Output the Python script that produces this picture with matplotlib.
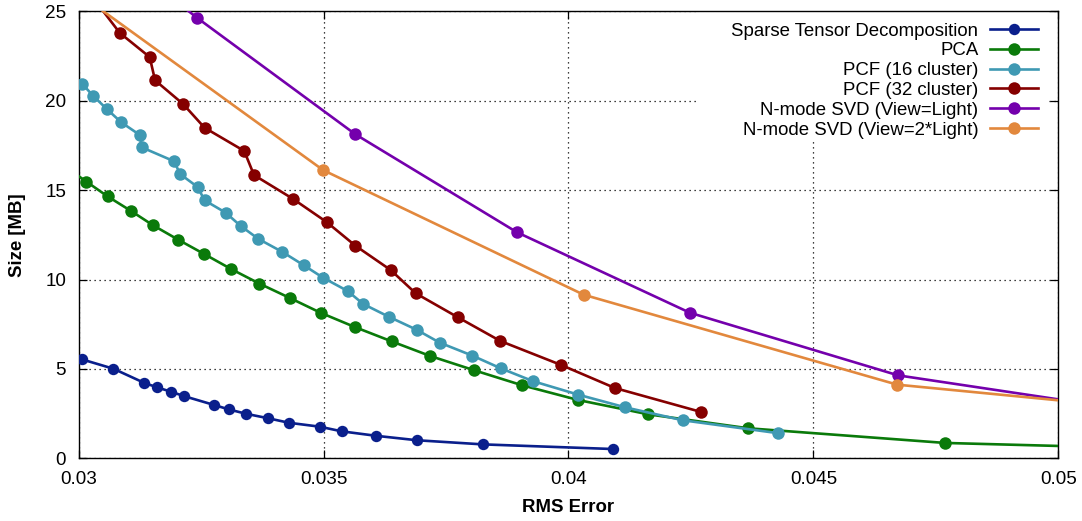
import matplotlib
matplotlib.use('Agg')
import matplotlib.pyplot as plt
from matplotlib.patches import Rectangle
from matplotlib.ticker import FuncFormatter

plt.rcParams['font.family'] = ['Liberation Sans', 'DejaVu Sans']

# values; points outside the axes are only there so
# the clipped line segments reach the border like in the original
std_x = [0.03006, 0.03071, 0.03133, 0.03160, 0.03189, 0.03215, 0.03277, 0.03306, 0.03342,
         0.03387, 0.03429, 0.03492, 0.03537, 0.03607, 0.03691, 0.03825, 0.04091]
std_y = [5.54, 5.01, 4.23, 3.97, 3.72, 3.48, 2.98, 2.74, 2.49,
         2.24, 1.99, 1.77, 1.51, 1.26, 1.01, 0.78, 0.52]

pca_x = [0.02970, 0.03016, 0.03059, 0.03106, 0.03152, 0.03203, 0.03256, 0.03311, 0.03369,
         0.03431, 0.03494, 0.03564, 0.03639, 0.03718, 0.03808, 0.03906, 0.04020, 0.04163,
         0.04367, 0.04769, 0.05250]
pca_y = [16.36, 15.47, 14.65, 13.85, 13.03, 12.23, 11.43, 10.59, 9.77,
         8.97, 8.14, 7.34, 6.54, 5.72, 4.92, 4.08, 3.26, 2.46,
         1.68, 0.86, 0.51]

pcf16_x = [0.03007, 0.03030, 0.03058, 0.03087, 0.03125, 0.03129, 0.03195, 0.03207, 0.03243,
           0.03257, 0.03300, 0.03331, 0.03367, 0.03416, 0.03460, 0.03499, 0.03549, 0.03581,
           0.03633, 0.03690, 0.03737, 0.03804, 0.03862, 0.03928, 0.04020, 0.04116, 0.04233,
           0.04427]
pcf16_y = [20.95, 20.26, 19.52, 18.79, 18.08, 17.39, 16.61, 15.90, 15.17,
           14.43, 13.74, 12.99, 12.27, 11.54, 10.79, 10.10, 9.36, 8.63,
           7.92, 7.19, 6.47, 5.74, 5.03, 4.31, 3.56, 2.85, 2.13,
           1.41]

pcf32_x = [0.03000, 0.03084, 0.03145, 0.03156, 0.03213, 0.03257, 0.03338, 0.03358, 0.03437,
           0.03506, 0.03565, 0.03637, 0.03688, 0.03774, 0.03861, 0.03985, 0.04095, 0.04271]
pcf32_y = [26.8, 23.79, 22.44, 21.14, 19.82, 18.49, 17.19, 15.84, 14.52,
           13.22, 11.89, 10.53, 9.23, 7.89, 6.56, 5.22, 3.93, 2.59]

svd1_x = [0.03100, 0.03242, 0.03565, 0.03895, 0.04248, 0.04673, 0.05250]
svd1_y = [27.7, 24.63, 18.12, 12.64, 8.14, 4.64, 2.27]

svd2_x = [0.03000, 0.03499, 0.04031, 0.04671, 0.05250]
svd2_y = [26.0, 16.12, 9.15, 4.12, 2.58]

labels = ['Sparse Tensor Decomposition', 'PCA', 'PCF (16 cluster)', 'PCF (32 cluster)',
          'N-mode SVD (View=Light)', 'N-mode SVD (View=2*Light)']
colors = ['#0a1f8c', '#0a7a0a', '#3f99b3', '#850000', '#7400ac', '#e2883d']

xticks = [0.03, 0.035, 0.04, 0.045, 0.05]
yticks = [0, 5, 10, 15, 20, 25]

series = [(std_x, std_y), (pca_x, pca_y), (pcf16_x, pcf16_y),
          (pcf32_x, pcf32_y), (svd1_x, svd1_y), (svd2_x, svd2_y)]

fig, ax = plt.subplots(figsize=(10.82, 5.21), dpi=100)
fig.subplots_adjust(left=0.0727, right=0.9781, top=0.9783, bottom=0.1203)

ax.set_axisbelow(True)
ax.grid(True, color='black', linestyle=(0, (1, 3)), linewidth=0.9)

# white key box hiding the grid, like gnuplot's opaque key
ax.add_patch(Rectangle((0.631, 0.712), 0.3585, 0.288, transform=ax.transAxes,
                       facecolor='white', edgecolor='none', zorder=1))

for (xs, ys), lab, col in zip(series, labels, colors):
    ms = 8.2 if lab.startswith('Sparse') else 9.0
    ax.plot(xs, ys, color=col, lw=1.9, marker='o', markersize=ms,
            markeredgewidth=0, label=lab, zorder=3)

ax.set_xlim(0.03, 0.05)
ax.set_ylim(0, 25)
ax.set_xticks(xticks)
ax.set_yticks(yticks)
ax.xaxis.set_major_formatter(FuncFormatter(lambda v, _: f'{v:g}'))
ax.tick_params(direction='in', length=6, width=0.9, top=True, right=True,
               labelsize=13.6, pad=9)
for s in ax.spines.values():
    s.set_linewidth(1.0)

ax.set_xlabel('RMS Error', fontsize=13.4, fontweight='bold', labelpad=8)
ax.set_ylabel('Size [MB]', fontsize=13.4, fontweight='bold', labelpad=14)

ax.legend(loc='upper right', bbox_to_anchor=(0.9793, 0.975), frameon=False,
          markerfirst=False, fontsize=13.4, borderpad=0, borderaxespad=0,
          handlelength=2.6, handletextpad=0.6, labelspacing=0.15)

fig.savefig('out.png', dpi=100, facecolor='white')
